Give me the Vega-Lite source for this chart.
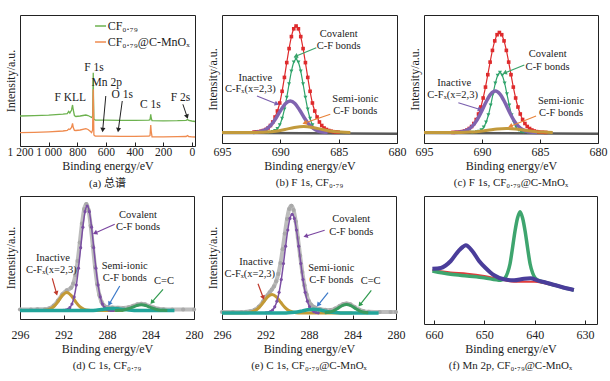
{
"$schema": "https://vega.github.io/schema/vega-lite/v6.json",
"autosize": {"type": "pad"},
"padding": {"left": 3, "top": 14, "right": 0, "bottom": 0},
"background": "white",
"bounds": "flush",
"columns": 3,
"spacing": {"row": 50, "column": 27},
"config": {
  "font": "Liberation Serif, Noto Sans CJK SC",
  "view": {"stroke": "#222", "strokeWidth": 1},
  "axis": {"labelFont": "Liberation Serif", "titleFont": "Liberation Serif", "labelFontSize": 12, "titleFontSize": 12, "titleFontWeight": "normal", "labelColor": "#222", "titleColor": "#222", "grid": false, "domain": false, "tickColor": "#222"},
  "axisX": {"tickSize": -4, "labelPadding": 7, "titlePadding": 3, "labelFlush": false, "labelOverlap": false},
  "axisY": {"labels": false, "ticks": false, "titlePadding": 3},
  "title": {"font": "Liberation Serif, Noto Sans CJK SC", "fontSize": 11, "fontWeight": "normal", "color": "#222"},
  "text": {"font": "Liberation Serif", "color": "#222", "fontSize": 10.5}
},
"concat": [
{
  "width": 175, "height": 131,
  "title": {"text": "(a) 总谱", "orient": "bottom", "offset": 6},
  "encoding": {
    "x": {"field": "E", "type": "quantitative", "scale": {"domain": [-22, 1200], "reverse": true, "nice": false, "zero": false}, "axis": {"values": [1200, 1000, 800, 600, 400, 200, 0], "labelExpr": "datum.value == 1200 ? '1 200' : datum.value == 1000 ? '1 000' : datum.label", "title": "Binding energy/eV", "labelPadding": 4, "labelFontSize": 11.5}},
    "y": {"field": "I", "type": "quantitative", "scale": {"domain": [0, 131], "nice": false}, "axis": {"title": "Intensity/a.u."}}
  },
  "layer": [
    {"data": {"values": [
      {"s": "CF₀.₇₉", "E": 1200, "I": 30}, {"s": "CF₀.₇₉", "E": 1100, "I": 30.3}, {"s": "CF₀.₇₉", "E": 1000, "I": 30.8}, {"s": "CF₀.₇₉", "E": 900, "I": 31.8}, {"s": "CF₀.₇₉", "E": 870, "I": 32.3}, {"s": "CF₀.₇₉", "E": 860, "I": 34.5}, {"s": "CF₀.₇₉", "E": 852, "I": 33}, {"s": "CF₀.₇₉", "E": 840, "I": 36}, {"s": "CF₀.₇₉", "E": 833, "I": 41}, {"s": "CF₀.₇₉", "E": 828, "I": 36}, {"s": "CF₀.₇₉", "E": 820, "I": 30.5}, {"s": "CF₀.₇₉", "E": 810, "I": 29.5}, {"s": "CF₀.₇₉", "E": 780, "I": 30}, {"s": "CF₀.₇₉", "E": 740, "I": 31}, {"s": "CF₀.₇₉", "E": 725, "I": 30.5}, {"s": "CF₀.₇₉", "E": 712, "I": 29.5}, {"s": "CF₀.₇₉", "E": 700, "I": 28.5}, {"s": "CF₀.₇₉", "E": 693, "I": 30}, {"s": "CF₀.₇₉", "E": 690, "I": 60}, {"s": "CF₀.₇₉", "E": 688.5, "I": 73.3}, {"s": "CF₀.₇₉", "E": 687, "I": 50}, {"s": "CF₀.₇₉", "E": 684, "I": 27}, {"s": "CF₀.₇₉", "E": 675, "I": 26}, {"s": "CF₀.₇₉", "E": 600, "I": 25.8}, {"s": "CF₀.₇₉", "E": 500, "I": 25.7}, {"s": "CF₀.₇₉", "E": 400, "I": 25.7}, {"s": "CF₀.₇₉", "E": 300, "I": 25.8}, {"s": "CF₀.₇₉", "E": 292, "I": 26.3}, {"s": "CF₀.₇₉", "E": 287, "I": 31.7}, {"s": "CF₀.₇₉", "E": 284, "I": 28}, {"s": "CF₀.₇₉", "E": 278, "I": 25.3}, {"s": "CF₀.₇₉", "E": 200, "I": 25.2}, {"s": "CF₀.₇₉", "E": 100, "I": 25.3}, {"s": "CF₀.₇₉", "E": 40, "I": 25.6}, {"s": "CF₀.₇₉", "E": 30, "I": 26.5}, {"s": "CF₀.₇₉", "E": 22, "I": 25.6}, {"s": "CF₀.₇₉", "E": 0, "I": 25}, {"s": "CF₀.₇₉", "E": -22, "I": 24.5},
      {"s": "CF₀.₇₉@C-MnOₓ", "E": 1200, "I": 13.3}, {"s": "CF₀.₇₉@C-MnOₓ", "E": 1100, "I": 13.7}, {"s": "CF₀.₇₉@C-MnOₓ", "E": 1000, "I": 14.2}, {"s": "CF₀.₇₉@C-MnOₓ", "E": 900, "I": 15}, {"s": "CF₀.₇₉@C-MnOₓ", "E": 870, "I": 15.5}, {"s": "CF₀.₇₉@C-MnOₓ", "E": 860, "I": 17}, {"s": "CF₀.₇₉@C-MnOₓ", "E": 852, "I": 16.5}, {"s": "CF₀.₇₉@C-MnOₓ", "E": 840, "I": 18.5}, {"s": "CF₀.₇₉@C-MnOₓ", "E": 833, "I": 22.7}, {"s": "CF₀.₇₉@C-MnOₓ", "E": 828, "I": 18.5}, {"s": "CF₀.₇₉@C-MnOₓ", "E": 820, "I": 15.7}, {"s": "CF₀.₇₉@C-MnOₓ", "E": 810, "I": 15.5}, {"s": "CF₀.₇₉@C-MnOₓ", "E": 780, "I": 16}, {"s": "CF₀.₇₉@C-MnOₓ", "E": 740, "I": 17.3}, {"s": "CF₀.₇₉@C-MnOₓ", "E": 725, "I": 16.5}, {"s": "CF₀.₇₉@C-MnOₓ", "E": 712, "I": 15}, {"s": "CF₀.₇₉@C-MnOₓ", "E": 700, "I": 13.3}, {"s": "CF₀.₇₉@C-MnOₓ", "E": 693, "I": 16}, {"s": "CF₀.₇₉@C-MnOₓ", "E": 690, "I": 45}, {"s": "CF₀.₇₉@C-MnOₓ", "E": 688.5, "I": 56.7}, {"s": "CF₀.₇₉@C-MnOₓ", "E": 687, "I": 40}, {"s": "CF₀.₇₉@C-MnOₓ", "E": 684, "I": 11}, {"s": "CF₀.₇₉@C-MnOₓ", "E": 675, "I": 10}, {"s": "CF₀.₇₉@C-MnOₓ", "E": 600, "I": 9.8}, {"s": "CF₀.₇₉@C-MnOₓ", "E": 500, "I": 9.7}, {"s": "CF₀.₇₉@C-MnOₓ", "E": 400, "I": 9.7}, {"s": "CF₀.₇₉@C-MnOₓ", "E": 300, "I": 9.8}, {"s": "CF₀.₇₉@C-MnOₓ", "E": 292, "I": 10.5}, {"s": "CF₀.₇₉@C-MnOₓ", "E": 287, "I": 21}, {"s": "CF₀.₇₉@C-MnOₓ", "E": 284, "I": 15}, {"s": "CF₀.₇₉@C-MnOₓ", "E": 278, "I": 9.2}, {"s": "CF₀.₇₉@C-MnOₓ", "E": 200, "I": 9.2}, {"s": "CF₀.₇₉@C-MnOₓ", "E": 100, "I": 9.3}, {"s": "CF₀.₇₉@C-MnOₓ", "E": 40, "I": 9.5}, {"s": "CF₀.₇₉@C-MnOₓ", "E": 30, "I": 10.5}, {"s": "CF₀.₇₉@C-MnOₓ", "E": 22, "I": 9.5}, {"s": "CF₀.₇₉@C-MnOₓ", "E": 0, "I": 9.2}, {"s": "CF₀.₇₉@C-MnOₓ", "E": -22, "I": 9}
    ]},
     "mark": {"type": "line", "strokeWidth": 1.3},
     "encoding": {"color": {"field": "s", "type": "nominal", "scale": {"domain": ["CF₀.₇₉", "CF₀.₇₉@C-MnOₓ"], "range": ["#6db24f", "#ef8b4f"]}, "legend": null}}
    },
    {"data": {"values": [{"s": "CF₀.₇₉", "E": 676, "I": 120, "E2": 599}, {"s": "CF₀.₇₉@C-MnOₓ", "E": 676, "I": 104, "E2": 599}]},
     "mark": {"type": "rule", "strokeWidth": 1.5},
     "encoding": {"x2": {"field": "E2"}, "color": {"field": "s", "type": "nominal", "scale": {"domain": ["CF₀.₇₉", "CF₀.₇₉@C-MnOₓ"], "range": ["#6db24f", "#ef8b4f"]}, "legend": null}}},
    {"data": {"values": [{"s": "CF₀.₇₉", "E": 588, "I": 120}, {"s": "CF₀.₇₉@C-MnOₓ", "E": 588, "I": 104}]},
     "mark": {"type": "text", "align": "left", "fontSize": 12}, "encoding": {"text": {"field": "s"}}},
    {"data": {"values": [{"E": 683, "I": 78.3, "t": "F 1s"}, {"E": 594.5, "I": 63.3, "t": "Mn 2p"}, {"E": 486, "I": 50.7, "t": "O 1s"}, {"E": 289, "I": 41, "t": "C 1s"}, {"E": 79, "I": 48.3, "t": "F 2s"}, {"E": 849, "I": 48.3, "t": "F KLL"}]},
     "mark": {"type": "text", "fontSize": 11.5}, "encoding": {"text": {"field": "t"}}},
    {"data": {"values": [{"E": 622, "I": 16.7, "E2": 601, "I2": 50}]}, "layer": [
      {"mark": {"type": "rule", "color": "#222", "strokeWidth": 1}, "encoding": {"x2": {"field": "E2"}, "y2": {"field": "I2"}}},
      {"mark": {"type": "point", "shape": "triangle", "angle": 185, "filled": true, "color": "#222", "size": 26, "opacity": 1}, "encoding": {}}]},
    {"data": {"values": [{"E": 513, "I": 16.7, "E2": 486, "I2": 45}]}, "layer": [
      {"mark": {"type": "rule", "color": "#222", "strokeWidth": 1}, "encoding": {"x2": {"field": "E2"}, "y2": {"field": "I2"}}},
      {"mark": {"type": "point", "shape": "triangle", "angle": 188, "filled": true, "color": "#222", "size": 26, "opacity": 1}, "encoding": {}}]},
    {"data": {"values": [{"E": 35, "I": 30, "E2": 62.5, "I2": 41.7}]}, "layer": [
      {"mark": {"type": "rule", "color": "#222", "strokeWidth": 1}, "encoding": {"x2": {"field": "E2"}, "y2": {"field": "I2"}}},
      {"mark": {"type": "point", "shape": "triangle", "angle": 161, "filled": true, "color": "#222", "size": 26, "opacity": 1}, "encoding": {}}]}
  ]
},
{
  "width": 175, "height": 128,
  "title": {"text": "(b) F 1s, CF₀.₇₉", "orient": "bottom", "offset": 6},
  "encoding": {
    "x": {"field": "E", "type": "quantitative", "scale": {"domain": [680, 695], "reverse": true, "nice": false, "zero": false}, "axis": {"values": [695, 690, 685, 680], "title": "Binding energy/eV"}},
    "y": {"field": "I", "type": "quantitative", "scale": {"domain": [0, 128], "nice": false}, "axis": {"title": "Intensity/a.u."}}
  },
  "layer": [
    {"data": {"values": [{"E": 695, "I": 10}, {"E": 688, "I": 9.8}, {"E": 680, "I": 9.3}]}, "mark": {"type": "line", "color": "#585858", "strokeWidth": 2.5}, "encoding": {}},
    {"data": {"values": [{"E": 692.25, "I": 10.9}, {"E": 692.05, "I": 11.1}, {"E": 691.85, "I": 11.3}, {"E": 691.65, "I": 11.8}, {"E": 691.45, "I": 12.5}, {"E": 691.25, "I": 13.5}, {"E": 691.05, "I": 15}, {"E": 690.85, "I": 17.5}, {"E": 690.65, "I": 21}, {"E": 690.45, "I": 26}, {"E": 690.25, "I": 32}, {"E": 690.05, "I": 40}, {"E": 689.85, "I": 51.7}, {"E": 689.65, "I": 65.6}, {"E": 689.45, "I": 80.4}, {"E": 689.25, "I": 94.4}, {"E": 689.05, "I": 106.4}, {"E": 688.85, "I": 114.2}, {"E": 688.65, "I": 117}, {"E": 688.45, "I": 114.2}, {"E": 688.25, "I": 106.4}, {"E": 688.05, "I": 94.4}, {"E": 687.85, "I": 80.4}, {"E": 687.65, "I": 65.6}, {"E": 687.45, "I": 51.7}, {"E": 687.25, "I": 40}, {"E": 687.05, "I": 32}, {"E": 686.85, "I": 26}, {"E": 686.65, "I": 21}, {"E": 686.45, "I": 17.5}, {"E": 686.25, "I": 15}, {"E": 686.05, "I": 13.5}, {"E": 685.85, "I": 12.5}, {"E": 685.65, "I": 11.8}, {"E": 685.45, "I": 11.3}, {"E": 685.25, "I": 11.1}, {"E": 685.05, "I": 10.9}]},
     "mark": {"type": "line", "color": "#de2a2c", "strokeWidth": 1.2, "interpolate": "monotone", "point": {"shape": "square", "size": 13, "filled": true, "color": "#de2a2c"}}, "encoding": {}},
    {"data": {"values": [{"E": 691.05, "I": 10.6}, {"E": 690.65, "I": 11.2}, {"E": 690.45, "I": 12.3}, {"E": 690.25, "I": 14.3}, {"E": 690.05, "I": 18.1}, {"E": 689.85, "I": 24.5}, {"E": 689.65, "I": 33.7}, {"E": 689.45, "I": 45.6}, {"E": 689.25, "I": 59}, {"E": 689.05, "I": 71.7}, {"E": 688.85, "I": 80.7}, {"E": 688.65, "I": 84}, {"E": 688.45, "I": 80.7}, {"E": 688.25, "I": 71.7}, {"E": 688.05, "I": 59}, {"E": 687.85, "I": 45.6}, {"E": 687.65, "I": 33.7}, {"E": 687.45, "I": 24.5}, {"E": 687.25, "I": 18.1}, {"E": 687.05, "I": 14.3}, {"E": 686.85, "I": 12.3}, {"E": 686.65, "I": 11.2}, {"E": 686.25, "I": 10.6}]},
     "mark": {"type": "line", "color": "#2fa36b", "strokeWidth": 1.2, "interpolate": "monotone", "point": {"shape": "triangle-down", "size": 16, "filled": true, "color": "#2fa36b"}}, "encoding": {}},
    {"data": {"values": [{"E": 692.35, "I": 10.6}, {"E": 691.95, "I": 11}, {"E": 691.55, "I": 12}, {"E": 691.15, "I": 14.4}, {"E": 690.75, "I": 18.7}, {"E": 690.35, "I": 25.3}, {"E": 689.95, "I": 33}, {"E": 689.55, "I": 39.5}, {"E": 689.15, "I": 42}, {"E": 688.75, "I": 39.5}, {"E": 688.35, "I": 33}, {"E": 687.95, "I": 25.3}, {"E": 687.55, "I": 18.7}, {"E": 687.15, "I": 14.4}, {"E": 686.75, "I": 12}, {"E": 686.35, "I": 11}, {"E": 685.95, "I": 10.6}]},
     "mark": {"type": "line", "color": "#8064b0", "strokeWidth": 3.5, "interpolate": "monotone"}, "encoding": {}},
    {"data": {"values": [{"E": 695, "I": 10.5}, {"E": 692.8, "I": 10.5}, {"E": 692, "I": 10.6}, {"E": 691.2, "I": 10.9}, {"E": 690.4, "I": 11.8}, {"E": 689.6, "I": 13.5}, {"E": 688.8, "I": 15.5}, {"E": 688, "I": 16.5}, {"E": 687.2, "I": 15.5}, {"E": 686.4, "I": 13.5}, {"E": 685.6, "I": 11.8}, {"E": 684.8, "I": 10.9}, {"E": 684, "I": 10.6}]},
     "mark": {"type": "line", "color": "#c29a3c", "strokeWidth": 3, "interpolate": "monotone"}, "encoding": {}},
    {"data": {"values": [{"E": 685, "I": 109.3, "t": "Covalent"}, {"E": 685, "I": 97, "t": "C-F bonds"}, {"E": 692.14, "I": 65.3, "t": "Inactive"}, {"E": 692.57, "I": 53.7, "t": "C-Fₓ(x=2,3)"}, {"E": 683.57, "I": 43.7, "t": "Semi-ionic"}, {"E": 683.57, "I": 32, "t": "C-F bonds"}]},
     "mark": {"type": "text"}, "encoding": {"text": {"field": "t"}}},
    {"data": {"values": [{"E": 688.63, "I": 87, "E2": 686.92, "I2": 95.3}]}, "layer": [
      {"mark": {"type": "rule", "color": "#3aa36a", "strokeWidth": 1.2}, "encoding": {"x2": {"field": "E2"}, "y2": {"field": "I2"}}},
      {"mark": {"type": "point", "shape": "triangle", "angle": 247.5, "filled": true, "color": "#3aa36a", "size": 26, "opacity": 1}, "encoding": {}}]},
    {"data": {"values": [{"E": 690.35, "I": 39.3, "E2": 692.0, "I2": 47}]}, "layer": [
      {"mark": {"type": "rule", "color": "#7a5fae", "strokeWidth": 1.2}, "encoding": {"x2": {"field": "E2"}, "y2": {"field": "I2"}}},
      {"mark": {"type": "point", "shape": "triangle", "angle": 111.8, "filled": true, "color": "#7a5fae", "size": 26, "opacity": 1}, "encoding": {}}]},
    {"data": {"values": [{"E": 687.86, "I": 20.3, "E2": 685.72, "I2": 28.7}]}, "layer": [
      {"mark": {"type": "rule", "color": "#e8833a", "strokeWidth": 1.2}, "encoding": {"x2": {"field": "E2"}, "y2": {"field": "I2"}}},
      {"mark": {"type": "point", "shape": "triangle", "angle": 251.4, "filled": true, "color": "#e8833a", "size": 26, "opacity": 1}, "encoding": {}}]}
  ]
},
{
  "width": 174, "height": 128,
  "title": {"text": "(c) F 1s, CF₀.₇₉@C-MnOₓ", "orient": "bottom", "offset": 6},
  "encoding": {
    "x": {"field": "E", "type": "quantitative", "scale": {"domain": [680, 695], "reverse": true, "nice": false, "zero": false}, "axis": {"values": [695, 690, 685, 680], "title": "Binding energy/eV"}},
    "y": {"field": "I", "type": "quantitative", "scale": {"domain": [0, 128], "nice": false}, "axis": {"title": "Intensity/a.u."}}
  },
  "layer": [
    {"data": {"values": [{"E": 695, "I": 10}, {"E": 684, "I": 9.6}, {"E": 680, "I": 9.3}]}, "mark": {"type": "line", "color": "#585858", "strokeWidth": 2.5}, "encoding": {}},
    {"data": {"values": [{"E": 692.5, "I": 10.6}, {"E": 692.2, "I": 10.8}, {"E": 691.9, "I": 11}, {"E": 691.7, "I": 11.4}, {"E": 691.5, "I": 12}, {"E": 691.3, "I": 13}, {"E": 691.1, "I": 14.5}, {"E": 690.9, "I": 16.5}, {"E": 690.7, "I": 19.5}, {"E": 690.5, "I": 23.5}, {"E": 690.3, "I": 29}, {"E": 690.1, "I": 36}, {"E": 689.9, "I": 45}, {"E": 689.7, "I": 55.9}, {"E": 689.5, "I": 68.3}, {"E": 689.3, "I": 80.9}, {"E": 689.1, "I": 92.6}, {"E": 688.9, "I": 102.1}, {"E": 688.7, "I": 108.3}, {"E": 688.5, "I": 110.5}, {"E": 688.3, "I": 108.3}, {"E": 688.1, "I": 102.1}, {"E": 687.9, "I": 92.6}, {"E": 687.7, "I": 80.9}, {"E": 687.5, "I": 68.3}, {"E": 687.3, "I": 55.9}, {"E": 687.1, "I": 45}, {"E": 686.9, "I": 36}, {"E": 686.7, "I": 29}, {"E": 686.5, "I": 23.5}, {"E": 686.3, "I": 19.5}, {"E": 686.1, "I": 16.5}, {"E": 685.9, "I": 14.5}, {"E": 685.7, "I": 13}, {"E": 685.5, "I": 12}, {"E": 685.3, "I": 11.4}, {"E": 685.1, "I": 11}, {"E": 684.8, "I": 10.8}, {"E": 684.5, "I": 10.6}]},
     "mark": {"type": "line", "color": "#de2a2c", "strokeWidth": 1.2, "interpolate": "monotone", "point": {"shape": "square", "size": 13, "filled": true, "color": "#de2a2c"}}, "encoding": {}},
    {"data": {"values": [{"E": 690.85, "I": 10.5}, {"E": 690.45, "I": 10.9}, {"E": 690.25, "I": 11.6}, {"E": 690.05, "I": 13.1}, {"E": 689.85, "I": 15.8}, {"E": 689.65, "I": 20.7}, {"E": 689.45, "I": 28}, {"E": 689.25, "I": 37.7}, {"E": 689.05, "I": 49}, {"E": 688.85, "I": 59.8}, {"E": 688.65, "I": 67.6}, {"E": 688.45, "I": 70.5}, {"E": 688.25, "I": 67.6}, {"E": 688.05, "I": 59.8}, {"E": 687.85, "I": 49}, {"E": 687.65, "I": 37.7}, {"E": 687.45, "I": 28}, {"E": 687.25, "I": 20.7}, {"E": 687.05, "I": 15.8}, {"E": 686.85, "I": 13.1}, {"E": 686.65, "I": 11.6}, {"E": 686.45, "I": 10.9}, {"E": 686.05, "I": 10.5}]},
     "mark": {"type": "line", "color": "#2fa36b", "strokeWidth": 1.2, "interpolate": "monotone", "point": {"shape": "triangle-down", "size": 16, "filled": true, "color": "#2fa36b"}}, "encoding": {}},
    {"data": {"values": [{"E": 692.45, "I": 10.6}, {"E": 692.05, "I": 10.8}, {"E": 691.65, "I": 11.5}, {"E": 691.25, "I": 13.1}, {"E": 690.85, "I": 16.6}, {"E": 690.45, "I": 22.6}, {"E": 690.05, "I": 31.3}, {"E": 689.65, "I": 41}, {"E": 689.25, "I": 48.9}, {"E": 688.85, "I": 52}, {"E": 688.45, "I": 48.9}, {"E": 688.05, "I": 41}, {"E": 687.65, "I": 31.3}, {"E": 687.25, "I": 22.6}, {"E": 686.85, "I": 16.6}, {"E": 686.45, "I": 13.1}, {"E": 686.05, "I": 11.5}, {"E": 685.65, "I": 10.8}, {"E": 685.25, "I": 10.6}]},
     "mark": {"type": "line", "color": "#8064b0", "strokeWidth": 3.5, "interpolate": "monotone"}, "encoding": {}},
    {"data": {"values": [{"E": 695, "I": 10.5}, {"E": 692.7, "I": 10.5}, {"E": 691.9, "I": 10.6}, {"E": 691.1, "I": 10.9}, {"E": 690.3, "I": 11.6}, {"E": 689.5, "I": 12.7}, {"E": 688.7, "I": 14}, {"E": 687.9, "I": 14.5}, {"E": 687.1, "I": 14}, {"E": 686.3, "I": 12.7}, {"E": 685.5, "I": 11.6}, {"E": 684.7, "I": 10.9}, {"E": 683.9, "I": 10.6}]},
     "mark": {"type": "line", "color": "#c29a3c", "strokeWidth": 3, "interpolate": "monotone"}, "encoding": {}},
    {"data": {"values": [{"E": 684.34, "I": 88.7, "t": "Covalent"}, {"E": 684.34, "I": 76.3, "t": "C-F bonds"}, {"E": 692.39, "I": 60.3, "t": "Inactive"}, {"E": 692.53, "I": 47.7, "t": "C-Fₓ(x=2,3)"}, {"E": 683.19, "I": 42, "t": "Semi-ionic"}, {"E": 683.19, "I": 29.7, "t": "C-F bonds"}]},
     "mark": {"type": "text"}, "encoding": {"text": {"field": "t"}}},
    {"data": {"values": [{"E": 687.99, "I": 70.3, "E2": 686.35, "I2": 78}]}, "layer": [
      {"mark": {"type": "rule", "color": "#3aa36a", "strokeWidth": 1.2}, "encoding": {"x2": {"field": "E2"}, "y2": {"field": "I2"}}},
      {"mark": {"type": "point", "shape": "triangle", "angle": 247.9, "filled": true, "color": "#3aa36a", "size": 26, "opacity": 1}, "encoding": {}}]},
    {"data": {"values": [{"E": 690.23, "I": 33.7, "E2": 692.04, "I2": 40.3}]}, "layer": [
      {"mark": {"type": "rule", "color": "#7a5fae", "strokeWidth": 1.2}, "encoding": {"x2": {"field": "E2"}, "y2": {"field": "I2"}}},
      {"mark": {"type": "point", "shape": "triangle", "angle": 107.4, "filled": true, "color": "#7a5fae", "size": 26, "opacity": 1}, "encoding": {}}]},
    {"data": {"values": [{"E": 687.5, "I": 17, "E2": 685.34, "I2": 27}]}, "layer": [
      {"mark": {"type": "rule", "color": "#e8833a", "strokeWidth": 1.2}, "encoding": {"x2": {"field": "E2"}, "y2": {"field": "I2"}}},
      {"mark": {"type": "point", "shape": "triangle", "angle": 248.2, "filled": true, "color": "#e8833a", "size": 26, "opacity": 1}, "encoding": {}}]}
  ]
},
{
  "width": 174, "height": 123,
  "title": {"text": "(d) C 1s, CF₀.₇₉", "orient": "bottom", "offset": 6},
  "encoding": {
    "x": {"field": "E", "type": "quantitative", "scale": {"domain": [280, 296], "reverse": true, "nice": false, "zero": false}, "axis": {"values": [296, 292, 288, 284, 280], "title": "Binding energy/eV", "labelPadding": 14}},
    "y": {"field": "I", "type": "quantitative", "scale": {"domain": [0, 123], "nice": false}, "axis": {"title": "Intensity/a.u."}}
  },
  "layer": [
    {"data": {"values": [{"E": 296, "I": 9.5}, {"E": 295, "I": 9.5}, {"E": 294.4, "I": 9.7}, {"E": 293.7, "I": 9.7}, {"E": 293.3, "I": 10.6}, {"E": 292.9, "I": 13.3}, {"E": 292.5, "I": 18.5}, {"E": 292.1, "I": 24.7}, {"E": 291.7, "I": 28.6}, {"E": 291.3, "I": 31.2}, {"E": 291.1, "I": 35.4}, {"E": 290.9, "I": 44}, {"E": 290.7, "I": 58.1}, {"E": 290.5, "I": 76.4}, {"E": 290.3, "I": 95.4}, {"E": 290.1, "I": 109.8}, {"E": 289.9, "I": 115}, {"E": 289.7, "I": 108.9}, {"E": 289.5, "I": 93.2}, {"E": 289.3, "I": 72.6}, {"E": 289.1, "I": 52}, {"E": 288.9, "I": 35}, {"E": 288.7, "I": 23.9}, {"E": 288.5, "I": 17.1}, {"E": 288.3, "I": 13.6}, {"E": 288.1, "I": 12.2}, {"E": 287.9, "I": 11.7}, {"E": 287.5, "I": 11.5}, {"E": 287, "I": 11.2}, {"E": 286.5, "I": 11}, {"E": 286, "I": 11.7}, {"E": 285.6, "I": 13.1}, {"E": 285.2, "I": 14.6}, {"E": 284.85, "I": 15.2}, {"E": 284.5, "I": 14.6}, {"E": 284.1, "I": 13}, {"E": 283.7, "I": 11.3}, {"E": 283.3, "I": 10.2}, {"E": 282.8, "I": 9.7}, {"E": 282, "I": 9.5}, {"E": 281, "I": 9.5}, {"E": 280, "I": 9.5}]},
     "mark": {"type": "line", "color": "#bcbcbc", "strokeWidth": 4, "interpolate": "monotone", "point": {"shape": "circle", "size": 18, "filled": true, "color": "#a9a9a9"}}, "encoding": {}},
    {"data": {"values": [{"E": 295.5, "I": 8.5}, {"E": 294.1, "I": 8.5}, {"E": 293.7, "I": 8.7}, {"E": 293.3, "I": 9.6}, {"E": 292.9, "I": 12.3}, {"E": 292.5, "I": 17.5}, {"E": 292.1, "I": 23.6}, {"E": 291.7, "I": 26.5}, {"E": 291.3, "I": 23.6}, {"E": 290.9, "I": 17.5}, {"E": 290.5, "I": 12.3}, {"E": 290.1, "I": 9.6}, {"E": 289.7, "I": 8.7}, {"E": 289.3, "I": 8.5}, {"E": 286.5, "I": 8.4}]},
     "mark": {"type": "line", "color": "#c39a36", "strokeWidth": 3, "interpolate": "monotone"}, "encoding": {}},
    {"data": {"values": [{"E": 292.22, "I": 8.5}, {"E": 292.02, "I": 8.6}, {"E": 291.82, "I": 8.9}, {"E": 291.62, "I": 9.6}, {"E": 291.42, "I": 11.3}, {"E": 291.22, "I": 15}, {"E": 291.02, "I": 22.1}, {"E": 290.82, "I": 33.9}, {"E": 290.62, "I": 50.8}, {"E": 290.42, "I": 71.3}, {"E": 290.22, "I": 91.8}, {"E": 290.02, "I": 107.3}, {"E": 289.82, "I": 113}, {"E": 289.62, "I": 107.3}, {"E": 289.42, "I": 91.8}, {"E": 289.22, "I": 71.3}, {"E": 289.02, "I": 50.8}, {"E": 288.82, "I": 33.9}, {"E": 288.62, "I": 22.1}, {"E": 288.42, "I": 15}, {"E": 288.22, "I": 11.3}, {"E": 288.02, "I": 9.6}, {"E": 287.82, "I": 8.9}, {"E": 287.62, "I": 8.6}, {"E": 287.42, "I": 8.5}]},
     "mark": {"type": "line", "color": "#7b4fa3", "strokeWidth": 1.5, "interpolate": "monotone", "point": {"shape": "circle", "size": 10, "filled": true, "color": "#7b4fa3"}}, "encoding": {}},
    {"data": {"values": [{"E": 296, "I": 8.5}, {"E": 289.5, "I": 8.5}, {"E": 289, "I": 8.8}, {"E": 288.5, "I": 9.5}, {"E": 288, "I": 10.2}, {"E": 287.5, "I": 10.5}, {"E": 287, "I": 10.2}, {"E": 286.5, "I": 9.5}, {"E": 286, "I": 8.9}, {"E": 285.5, "I": 8.6}, {"E": 284, "I": 8.5}, {"E": 281.8, "I": 8.5}]},
     "mark": {"type": "line", "color": "#22a59a", "strokeWidth": 3.5, "interpolate": "monotone"}, "encoding": {}},
    {"data": {"values": [{"E": 287.25, "I": 8.5}, {"E": 286.85, "I": 8.7}, {"E": 286.45, "I": 9.1}, {"E": 286.05, "I": 10.2}, {"E": 285.65, "I": 11.8}, {"E": 285.25, "I": 13.5}, {"E": 284.85, "I": 14.2}, {"E": 284.45, "I": 13.5}, {"E": 284.05, "I": 11.8}, {"E": 283.65, "I": 10.2}, {"E": 283.25, "I": 9.1}, {"E": 282.85, "I": 8.7}, {"E": 282.45, "I": 8.5}]},
     "mark": {"type": "line", "color": "#3a9a5e", "strokeWidth": 3, "interpolate": "monotone"}, "encoding": {}},
    {"data": {"values": [{"E": 285.15, "I": 104, "t": "Covalent"}, {"E": 285.15, "I": 92, "t": "C-F bonds"}, {"E": 292.97, "I": 61.3, "t": "Inactive"}, {"E": 293.12, "I": 49, "t": "C-Fₓ(x=2,3)"}, {"E": 286.37, "I": 53, "t": "Semi-ionic"}, {"E": 286.37, "I": 40.7, "t": "C-F bonds"}, {"E": 282.76, "I": 38, "t": "C=C"}]},
     "mark": {"type": "text"}, "encoding": {"text": {"field": "t"}}},
    {"data": {"values": [{"E": 289.04, "I": 86.3, "E2": 287.29, "I2": 94.7}]}, "layer": [
      {"mark": {"type": "rule", "color": "#7a45a0", "strokeWidth": 1.2}, "encoding": {"x2": {"field": "E2"}, "y2": {"field": "I2"}}},
      {"mark": {"type": "point", "shape": "triangle", "angle": 246.1, "filled": true, "color": "#7a45a0", "size": 26, "opacity": 1}, "encoding": {}}]},
    {"data": {"values": [{"E": 292.66, "I": 26.3, "E2": 293.03, "I2": 40.7}]}, "layer": [
      {"mark": {"type": "rule", "color": "#c0392b", "strokeWidth": 1.2}, "encoding": {"x2": {"field": "E2"}, "y2": {"field": "I2"}}},
      {"mark": {"type": "point", "shape": "triangle", "angle": 164.5, "filled": true, "color": "#c0392b", "size": 26, "opacity": 1}, "encoding": {}}]},
    {"data": {"values": [{"E": 287.75, "I": 15.7, "E2": 286.83, "I2": 33}]}, "layer": [
      {"mark": {"type": "rule", "color": "#3a78c8", "strokeWidth": 1.2}, "encoding": {"x2": {"field": "E2"}, "y2": {"field": "I2"}}},
      {"mark": {"type": "point", "shape": "triangle", "angle": 210, "filled": true, "color": "#3a78c8", "size": 26, "opacity": 1}, "encoding": {}}]},
    {"data": {"values": [{"E": 283.83, "I": 17.3, "E2": 282.85, "I2": 29.7}]}, "layer": [
      {"mark": {"type": "rule", "color": "#2f9a4e", "strokeWidth": 1.2}, "encoding": {"x2": {"field": "E2"}, "y2": {"field": "I2"}}},
      {"mark": {"type": "point", "shape": "triangle", "angle": 220.8, "filled": true, "color": "#2f9a4e", "size": 26, "opacity": 1}, "encoding": {}}]}
  ]
},
{
  "width": 174, "height": 123,
  "title": {"text": "(e) C 1s, CF₀.₇₉@C-MnOₓ", "orient": "bottom", "offset": 6},
  "encoding": {
    "x": {"field": "E", "type": "quantitative", "scale": {"domain": [280, 296], "reverse": true, "nice": false, "zero": false}, "axis": {"values": [296, 292, 288, 284, 280], "title": "Binding energy/eV", "labelPadding": 14}},
    "y": {"field": "I", "type": "quantitative", "scale": {"domain": [0, 123], "nice": false}, "axis": {"title": "Intensity/a.u."}}
  },
  "layer": [
    {"data": {"values": [{"E": 296, "I": 7}, {"E": 295, "I": 7}, {"E": 294.2, "I": 7}, {"E": 293.8, "I": 7.1}, {"E": 293.4, "I": 7.7}, {"E": 293, "I": 9.1}, {"E": 292.6, "I": 12.4}, {"E": 292.2, "I": 17.8}, {"E": 291.82, "I": 23.6}, {"E": 291.62, "I": 26.6}, {"E": 291.42, "I": 29.4}, {"E": 291.22, "I": 32.6}, {"E": 291.02, "I": 37.7}, {"E": 290.82, "I": 45.1}, {"E": 290.62, "I": 55.9}, {"E": 290.42, "I": 69.8}, {"E": 290.22, "I": 85.4}, {"E": 290.02, "I": 99.9}, {"E": 289.82, "I": 110}, {"E": 289.62, "I": 113.2}, {"E": 289.42, "I": 109}, {"E": 289.22, "I": 97.4}, {"E": 289.02, "I": 81}, {"E": 288.82, "I": 63.3}, {"E": 288.62, "I": 46.9}, {"E": 288.42, "I": 33.7}, {"E": 288.22, "I": 24.3}, {"E": 288.02, "I": 18}, {"E": 287.82, "I": 14.5}, {"E": 287.62, "I": 12.5}, {"E": 287.42, "I": 11.3}, {"E": 287, "I": 10}, {"E": 286.5, "I": 9.05}, {"E": 286, "I": 9}, {"E": 285.6, "I": 10.3}, {"E": 285.2, "I": 12.8}, {"E": 284.85, "I": 14.8}, {"E": 284.55, "I": 15.5}, {"E": 284.2, "I": 14.6}, {"E": 283.8, "I": 12}, {"E": 283.4, "I": 9.4}, {"E": 283, "I": 7.9}, {"E": 282.5, "I": 7.2}, {"E": 281.5, "I": 7}, {"E": 280.5, "I": 7}, {"E": 280, "I": 7}]},
     "mark": {"type": "line", "color": "#bcbcbc", "strokeWidth": 4, "interpolate": "monotone", "point": {"shape": "circle", "size": 18, "filled": true, "color": "#a9a9a9"}}, "encoding": {}},
    {"data": {"values": [{"E": 296, "I": 6}, {"E": 294.2, "I": 6}, {"E": 293.8, "I": 6.1}, {"E": 293.4, "I": 6.7}, {"E": 293, "I": 8.1}, {"E": 292.6, "I": 11.4}, {"E": 292.2, "I": 16.7}, {"E": 291.8, "I": 22.1}, {"E": 291.4, "I": 24.5}, {"E": 291, "I": 22.1}, {"E": 290.6, "I": 16.7}, {"E": 290.2, "I": 11.4}, {"E": 289.8, "I": 8.1}, {"E": 289.4, "I": 6.7}, {"E": 289, "I": 6.1}, {"E": 288.6, "I": 6}, {"E": 284, "I": 6}]},
     "mark": {"type": "line", "color": "#c39a36", "strokeWidth": 3, "interpolate": "monotone"}, "encoding": {}},
    {"data": {"values": [{"E": 291.95, "I": 6.2}, {"E": 291.75, "I": 6.5}, {"E": 291.55, "I": 7.3}, {"E": 291.35, "I": 9}, {"E": 291.15, "I": 12.2}, {"E": 290.95, "I": 17.8}, {"E": 290.75, "I": 26.7}, {"E": 290.55, "I": 39.4}, {"E": 290.35, "I": 55.4}, {"E": 290.15, "I": 72.8}, {"E": 289.95, "I": 89}, {"E": 289.75, "I": 100.6}, {"E": 289.55, "I": 104.7}, {"E": 289.35, "I": 100.6}, {"E": 289.15, "I": 89}, {"E": 288.95, "I": 72.8}, {"E": 288.75, "I": 55.4}, {"E": 288.55, "I": 39.4}, {"E": 288.35, "I": 26.7}, {"E": 288.15, "I": 17.8}, {"E": 287.95, "I": 12.2}, {"E": 287.75, "I": 9}, {"E": 287.55, "I": 7.3}, {"E": 287.35, "I": 6.5}, {"E": 287.15, "I": 6.2}]},
     "mark": {"type": "line", "color": "#7b4fa3", "strokeWidth": 1.5, "interpolate": "monotone", "point": {"shape": "circle", "size": 10, "filled": true, "color": "#7b4fa3"}}, "encoding": {}},
    {"data": {"values": [{"E": 296, "I": 6}, {"E": 290.1, "I": 6.1}, {"E": 289.6, "I": 6.4}, {"E": 289.1, "I": 7}, {"E": 288.6, "I": 8.1}, {"E": 288.1, "I": 9.2}, {"E": 287.6, "I": 9.7}, {"E": 287.1, "I": 9.2}, {"E": 286.6, "I": 8.1}, {"E": 286.1, "I": 7}, {"E": 285.6, "I": 6.4}, {"E": 285.1, "I": 6.1}, {"E": 284, "I": 6}, {"E": 281.6, "I": 6}]},
     "mark": {"type": "line", "color": "#22a59a", "strokeWidth": 3.5, "interpolate": "monotone"}, "encoding": {}},
    {"data": {"values": [{"E": 286.55, "I": 6.2}, {"E": 286.15, "I": 6.7}, {"E": 285.75, "I": 8.1}, {"E": 285.35, "I": 10.6}, {"E": 284.95, "I": 13.3}, {"E": 284.55, "I": 14.5}, {"E": 284.15, "I": 13.3}, {"E": 283.75, "I": 10.6}, {"E": 283.35, "I": 8.1}, {"E": 282.95, "I": 6.7}, {"E": 282.55, "I": 6.2}]},
     "mark": {"type": "line", "color": "#3a9a5e", "strokeWidth": 3, "interpolate": "monotone"}, "encoding": {}},
    {"data": {"values": [{"E": 284.11, "I": 99.7, "t": "Covalent"}, {"E": 284.11, "I": 87, "t": "C-F bonds"}, {"E": 292.85, "I": 57, "t": "Inactive"}, {"E": 293.45, "I": 45.3, "t": "C-Fₓ(x=2,3)"}, {"E": 285.95, "I": 50.7, "t": "Semi-ionic"}, {"E": 285.95, "I": 39, "t": "C-F bonds"}, {"E": 282.33, "I": 38, "t": "C=C"}]},
     "mark": {"type": "text"}, "encoding": {"text": {"field": "t"}}},
    {"data": {"values": [{"E": 288.25, "I": 83, "E2": 286.56, "I2": 88.7}]}, "layer": [
      {"mark": {"type": "rule", "color": "#7a45a0", "strokeWidth": 1.2}, "encoding": {"x2": {"field": "E2"}, "y2": {"field": "I2"}}},
      {"mark": {"type": "point", "shape": "triangle", "angle": 252.8, "filled": true, "color": "#7a45a0", "size": 26, "opacity": 1}, "encoding": {}}]},
    {"data": {"values": [{"E": 292.23, "I": 22, "E2": 292.69, "I2": 35.3}]}, "layer": [
      {"mark": {"type": "rule", "color": "#c0392b", "strokeWidth": 1.2}, "encoding": {"x2": {"field": "E2"}, "y2": {"field": "I2"}}},
      {"mark": {"type": "point", "shape": "triangle", "angle": 159.4, "filled": true, "color": "#c0392b", "size": 26, "opacity": 1}, "encoding": {}}]},
    {"data": {"values": [{"E": 287.11, "I": 14.7, "E2": 286.25, "I2": 26.3}]}, "layer": [
      {"mark": {"type": "rule", "color": "#3a78c8", "strokeWidth": 1.2}, "encoding": {"x2": {"field": "E2"}, "y2": {"field": "I2"}}},
      {"mark": {"type": "point", "shape": "triangle", "angle": 218.7, "filled": true, "color": "#3a78c8", "size": 26, "opacity": 1}, "encoding": {}}]},
    {"data": {"values": [{"E": 283.28, "I": 14.7, "E2": 282.27, "I2": 28.7}]}, "layer": [
      {"mark": {"type": "rule", "color": "#2f9a4e", "strokeWidth": 1.2}, "encoding": {"x2": {"field": "E2"}, "y2": {"field": "I2"}}},
      {"mark": {"type": "point", "shape": "triangle", "angle": 218.2, "filled": true, "color": "#2f9a4e", "size": 26, "opacity": 1}, "encoding": {}}]}
  ]
},
{
  "width": 173, "height": 128,
  "title": {"text": "(f) Mn 2p, CF₀.₇₉@C-MnOₓ", "orient": "bottom", "offset": 6},
  "encoding": {
    "x": {"field": "E", "type": "quantitative", "scale": {"domain": [627.6, 662], "reverse": true, "nice": false, "zero": false}, "axis": {"values": [660, 650, 640, 630], "title": "Binding energy/eV", "labelPadding": 9}},
    "y": {"field": "I", "type": "quantitative", "scale": {"domain": [0, 128], "nice": false}, "axis": null}
  },
  "layer": [
    {"data": {"values": [{"E": 660.33, "I": 53.7}, {"E": 656.7, "I": 51.5}, {"E": 653.4, "I": 50.3}, {"E": 650, "I": 48}, {"E": 646.74, "I": 44.7}, {"E": 644.1, "I": 42.3}, {"E": 640.1, "I": 42.3}, {"E": 637.5, "I": 40}, {"E": 634.8, "I": 37.3}, {"E": 632.2, "I": 34}]},
     "mark": {"type": "line", "color": "#e03c3c", "strokeWidth": 2, "interpolate": "monotone"}, "encoding": {}},
    {"data": {"values": [{"E": 660.33, "I": 53}, {"E": 656.7, "I": 49.7}, {"E": 653.4, "I": 48}, {"E": 650.06, "I": 46.3}, {"E": 646.74, "I": 43.7}, {"E": 645.9, "I": 46}, {"E": 645.4, "I": 51}, {"E": 644.9, "I": 60}, {"E": 644.4, "I": 76}, {"E": 643.9, "I": 93}, {"E": 643.4, "I": 106}, {"E": 642.9, "I": 112.3}, {"E": 642.4, "I": 106}, {"E": 641.9, "I": 93}, {"E": 641.4, "I": 76}, {"E": 640.9, "I": 60}, {"E": 640.4, "I": 51}, {"E": 639.9, "I": 46}, {"E": 639.4, "I": 44}, {"E": 637.5, "I": 41}, {"E": 634.8, "I": 37.3}, {"E": 632.2, "I": 34}]},
     "mark": {"type": "line", "color": "#3ea56e", "strokeWidth": 3.5, "interpolate": "monotone"}, "encoding": {}},
    {"data": {"values": [{"E": 660.33, "I": 55.3}, {"E": 658.67, "I": 56}, {"E": 657.7, "I": 58.5}, {"E": 656.68, "I": 63}, {"E": 655.03, "I": 73.7}, {"E": 654.3, "I": 77}, {"E": 653.7, "I": 78.7}, {"E": 652.4, "I": 73}, {"E": 651.05, "I": 63}, {"E": 649.7, "I": 55.7}, {"E": 648.07, "I": 48.7}, {"E": 646.1, "I": 44.7}, {"E": 644.1, "I": 43.7}, {"E": 642.1, "I": 45.3}, {"E": 640.8, "I": 45.7}, {"E": 639.5, "I": 43.7}, {"E": 637.5, "I": 41}, {"E": 634.8, "I": 37.3}, {"E": 632.2, "I": 34}]},
     "mark": {"type": "line", "color": "#4a3d9a", "strokeWidth": 4, "interpolate": "monotone"}, "encoding": {}}
  ]
}
]
}
